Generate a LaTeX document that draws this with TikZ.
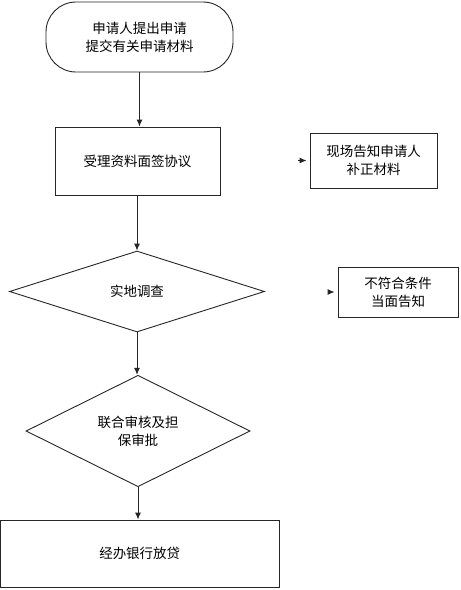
\documentclass[tikz,border=0pt]{standalone}
\usepackage{fontspec}
\setmainfont{Noto Sans CJK SC}
\usetikzlibrary{shapes.geometric,arrows.meta}
\tikzset{
  every node/.style={font=\fontsize{13.5}{18}\selectfont, align=center, inner sep=0pt, draw=black!85, line width=0.9pt},
  procbox/.style={rectangle},
  decbox/.style={diamond},
  arr/.style={draw=black!85, line width=0.9pt, -{Latex[length=7pt,width=6pt]}},
}
\begin{document}
\begin{tikzpicture}[x=1pt,y=-1pt]
\useasboundingbox (0,0) rectangle (461,590);
\node[procbox, rounded corners=30pt, minimum width=187pt, minimum height=70pt] (term) at (139.5,37) {申请人提出申请\\提交有关申请材料};
\node[procbox, minimum width=165pt, minimum height=68pt] (b1) at (137.5,161) {受理资料面签协议};
\node[procbox, minimum width=127pt, minimum height=55pt] (b2) at (373.5,160.5) {现场告知申请人\\补正材料};
\node[decbox, minimum width=255pt, minimum height=81pt] (d1) at (137,291.5) {实地调查};
\node[procbox, minimum width=120pt, minimum height=50pt] (b3) at (398,292) {不符合条件\\当面告知};
\node[decbox, minimum width=224pt, minimum height=100pt] (d2) at (138,431) {联合审核及担\\保审批};
\node[procbox, minimum width=278.5pt, minimum height=67pt] (b4) at (139.75,553.5) {经办银行放贷};
\coordinate (s1) at (298,160.5);
\coordinate (s2) at (328,292);
\draw[arr] (term.south) -- (term.south |- b1.north);
\draw[arr] (b1.south) -- (b1.south -| d1.north) -- (d1.north);
\draw[arr] (d1.south) -- (d1.south |- d2.north);
\draw[arr] (d2.south) -- (d2.south |- b4.north);
\draw[arr, shorten >=3pt] (s1) -- (b2.west);
\draw[arr, shorten >=3pt] (s2) -- (b3.west);
\end{tikzpicture}
\end{document}
